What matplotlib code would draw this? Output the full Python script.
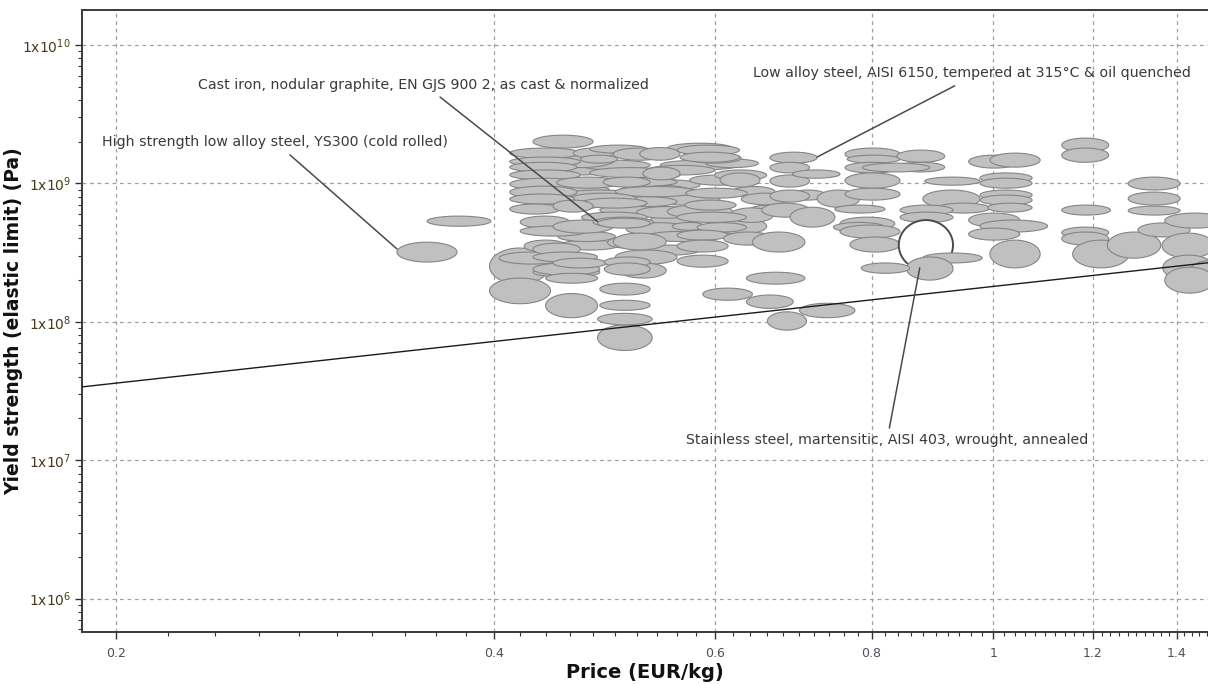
import numpy as np
import matplotlib
matplotlib.use("Agg")
import matplotlib.pyplot as plt
from matplotlib.ticker import FixedLocator, FuncFormatter, LogLocator, MultipleLocator, NullFormatter

# Material property envelopes: price range (EUR/kg) and yield strength range (MPa)
price_lo = [0.43, 0.435, 0.435, 0.452, 0.469, 0.504, 0.486, 0.452, 0.533, 0.523,
            0.543, 0.573, 0.533, 0.504, 0.523,
            0.477, 0.49, 0.50, 0.53, 0.52, 0.51, 0.53, 0.45, 0.59, 0.60,
            0.62, 0.63, 0.64, 0.55, 0.47, 0.50,
            0.44, 0.55, 0.60, 0.50, 0.46, 0.57,
            0.397, 0.397, 0.44, 0.484,
            0.43, 0.412, 0.412, 0.412, 0.412, 0.412, 0.412, 0.412, 0.412, 0.42,
            0.42, 0.423, 0.404, 0.43, 0.43, 0.43, 0.43, 0.44,
            0.463, 0.477, 0.498, 0.469, 0.449, 0.489, 0.469, 0.446, 0.446, 0.48,
            0.493, 0.498, 0.446, 0.504, 0.49, 0.49, 0.486, 0.486, 0.484, 0.484,
            0.523, 0.56, 0.563, 0.526, 0.606, 0.569, 0.568, 0.617, 0.56, 0.555,
            0.581, 0.56, 0.61, 0.643, 0.56, 0.56, 0.636, 0.587, 0.636, 0.701, 0.661,
            0.664, 0.664, 0.664, 0.692, 0.689, 0.664, 0.724, 0.654, 0.689,
            0.762, 0.765, 0.838, 0.838, 0.762, 0.787, 0.762, 0.762, 0.748, 0.755,
            0.746, 0.755, 0.769,
            0.882, 0.879, 0.902, 0.843, 0.843]
price_hi = [0.486, 0.495, 0.504, 0.523, 0.533, 0.563, 0.553, 0.504, 0.606, 0.584,
            0.628, 0.64, 0.584, 0.573, 0.584,
            0.553, 0.56, 0.58, 0.60, 0.58, 0.575, 0.60, 0.50, 0.65, 0.66,
            0.67, 0.69, 0.70, 0.62, 0.53, 0.56,
            0.50, 0.62, 0.66, 0.56, 0.52, 0.63,
            0.443, 0.444, 0.484, 0.535,
            0.48, 0.469, 0.469, 0.466, 0.469, 0.469, 0.466, 0.464, 0.452, 0.46,
            0.475, 0.458, 0.455, 0.469, 0.484, 0.486, 0.486, 0.484,
            0.498, 0.53, 0.549, 0.502, 0.504, 0.533, 0.53, 0.48, 0.498, 0.536,
            0.526, 0.549, 0.492, 0.549, 0.533, 0.533, 0.533, 0.533, 0.535, 0.533,
            0.563, 0.628, 0.628, 0.563, 0.652, 0.637, 0.624, 0.668, 0.636, 0.59,
            0.636, 0.615, 0.668, 0.708, 0.615, 0.615, 0.708, 0.643, 0.693, 0.776, 0.71,
            0.724, 0.714, 0.714, 0.755, 0.736, 0.714, 0.783, 0.714, 0.748,
            0.843, 0.843, 0.915, 0.915, 0.843, 0.89, 0.843, 0.843, 0.82, 0.835,
            0.82, 0.843, 0.843,
            0.976, 0.976, 0.994, 0.929, 0.929]
ys_lo = [641, 823, 1150, 757, 1250, 1060, 590, 330, 697, 895,
         1250, 970, 500, 823, 303,
         1100, 950, 800, 1150, 560, 420, 380, 380, 1300, 1050,
         800, 700, 600, 1650, 520, 680,
         1300, 560, 430, 260, 700, 1400,
         187, 135, 107, 62,
         1800, 1520, 1330, 1210, 1060, 895, 782, 709, 600, 475,
         416, 319, 261, 303, 270, 210, 217, 190,
         1520, 1655, 1470, 1400, 923, 940, 663, 620, 437, 483,
         341, 330, 245, 207, 248, 217, 156, 121, 95, 475,
         1470, 1600, 1420, 1060, 940, 782, 641, 522, 522, 459,
         445, 389, 358, 319, 319, 248, 187, 143, 125, 107, 87,
         1400, 1190, 940, 1090, 757, 732, 672, 570, 483,
         1470, 1400, 1420, 1210, 1190, 1210, 923, 757, 610, 459,
         445, 402, 319,
         970, 665, 610, 590, 522]
ys_hi = [757, 970, 1355, 895, 1470, 1250, 697, 389, 823, 1060,
         1470, 1150, 590, 970, 358,
         1300, 1100, 950, 1350, 680, 520, 450, 450, 1500, 1250,
         950, 850, 700, 1950, 620, 800,
         1700, 700, 560, 330, 850, 1650,
         341, 207, 160, 95,
         2230, 1800, 1550, 1420, 1250, 1090, 955, 838, 709, 580,
         492, 389, 319, 370, 319, 248, 266, 224,
         1800, 1890, 1800, 1600, 1110, 1110, 782, 757, 543, 570,
         410, 437, 288, 266, 294, 266, 190, 143, 115, 560,
         1815, 1890, 1680, 1310, 1190, 923, 757, 665, 620, 522,
         520, 459, 445, 445, 389, 303, 228, 175, 156, 136, 118,
         1680, 1420, 1150, 1250, 895, 895, 895, 720, 672,
         1800, 1600, 1740, 1420, 1420, 1400, 1190, 923, 697, 570,
         522, 500, 410,
         1110, 895, 720, 697, 620]

# Highlighted record (drawn hollow)
sel_price = (0.841, 0.929)
sel_ys = (236, 543)

# Records drawn after the highlighted one
front_price_lo = [0.879, 0.853, 0.785, 0.956, 0.994, 0.976, 0.976, 0.976, 0.976, 0.99,
                  0.956, 0.976, 0.956, 0.994,
                  1.134, 1.134, 1.134, 1.134, 1.134, 1.157, 1.233, 1.281, 1.281, 1.281,
                  1.304, 1.37, 1.363, 1.365, 1.435, 1.37,
                  0.335, 0.354]
front_price_hi = [0.98, 0.929, 0.858, 1.05, 1.09, 1.074, 1.074, 1.074, 1.074, 1.074,
                  1.05, 1.105, 1.05, 1.09,
                  1.236, 1.236, 1.24, 1.236, 1.236, 1.283, 1.36, 1.409, 1.409, 1.409,
                  1.435, 1.53, 1.5, 1.5, 1.573, 1.5,
                  0.374, 0.398]
front_ys_lo = [266, 200, 224, 1290, 1310, 1005, 923, 757, 697, 620,
               483, 445, 389, 245,
               1680, 1420, 590, 402, 358, 245, 288, 895, 697, 590,
               410, 475, 288, 200, 200, 161,
               270, 490]
front_ys_hi = [314, 294, 266, 1600, 1655, 1190, 1090, 895, 823, 720,
               610, 543, 475, 389,
               2125, 1800, 697, 483, 445, 389, 445, 1110, 865, 685,
               518, 610, 437, 303, 279, 248,
               376, 580]

# Guideline of constant strength/price ratio (Pa per EUR/kg)
guide_ratio = 1.8e8
guide_price = [0.15, 2.0]

# Labelled records: text, tip (price, MPa)
labels = ["Cast iron, nodular graphite, EN GJS 900 2, as cast & normalized",
          "High strength low alloy steel, YS300 (cold rolled)",
          "Low alloy steel, AISI 6150, tempered at 315\u00b0C & oil quenched",
          "Stainless steel, martensitic, AISI 403, wrought, annealed"]
label_tip_price = [0.484, 0.335, 0.724, 0.874]
label_tip_ys = [530, 336, 1550, 245]

FILL = "#c0c0c0"
EDGE = "#858585"
TEXT = "#3a3a3a"


def envelope(ax, plo, phi, slo, shi, face=FILL, edge=EDGE, lw=0.8, z=2):
    """Ellipse spanning the property ranges, elliptical in log-log space."""
    t = np.linspace(0, 2 * np.pi, 90)
    lx0, lx1 = np.log10(plo), np.log10(phi)
    ly0, ly1 = np.log10(slo * 1e6), np.log10(shi * 1e6)
    cx, cy = (lx0 + lx1) / 2, (ly0 + ly1) / 2
    ax_, ay_ = (lx1 - lx0) / 2, (ly1 - ly0) / 2
    ax.fill(10 ** (cx + ax_ * np.cos(t)), 10 ** (cy + ay_ * np.sin(t)),
            facecolor=face, edgecolor=edge, linewidth=lw, zorder=z)


fig = plt.figure(figsize=(12.08, 6.84), dpi=100)
ax = fig.add_axes([0.0679, 0.076, 0.9321, 0.9094])
ax.set_xscale("log")
ax.set_yscale("log")
ax.set_xlim(0.188, 1.483)
ax.set_ylim(5.73e5, 1.79e10)

for a, b, c, d in zip(price_lo, price_hi, ys_lo, ys_hi):
    envelope(ax, a, b, c, d)
envelope(ax, *sel_price, *sel_ys, face="white", edge="#4a4a4a", lw=1.4)
for a, b, c, d in zip(front_price_lo, front_price_hi, front_ys_lo, front_ys_hi):
    envelope(ax, a, b, c, d)

gp = np.array(guide_price)
ax.plot(gp, guide_ratio * gp, color="#1a1a1a", linewidth=1.0, zorder=4)

# axes styling
ax.xaxis.set_major_locator(FixedLocator([0.2, 0.4, 0.6, 0.8, 1.0, 1.2, 1.4]))
ax.xaxis.set_major_formatter(FuncFormatter(lambda v, p: "%g" % v))
ax.xaxis.set_minor_locator(MultipleLocator(0.02))
ax.xaxis.set_minor_formatter(NullFormatter())
ax.yaxis.set_major_locator(LogLocator(base=10, numticks=20))
ax.yaxis.set_minor_locator(LogLocator(base=10, subs=np.arange(2, 10), numticks=20))
ax.yaxis.set_major_formatter(FuncFormatter(
    lambda v, p: r"$1\mathrm{x}10^{%d}$" % round(np.log10(v))))
ax.yaxis.set_minor_formatter(NullFormatter())

ax.tick_params(axis="both", which="major", length=5, width=1, color="#333333",
               labelcolor="#4a4f5a", labelsize=9)
ax.tick_params(axis="both", which="minor", length=3, width=0.8, color="#333333")
ax.tick_params(axis="y", which="major", labelcolor="#4a3a1a", labelsize=10, pad=3)
ax.tick_params(axis="x", which="major", pad=6)

ax.grid(True, which="major", linestyle=(0, (3, 3)), color="#a0a0a0", linewidth=0.9)
ax.set_axisbelow(True)
for side in ["left", "bottom", "top"]:
    ax.spines[side].set_color("#3a3a3a")
    ax.spines[side].set_linewidth(1.4)
ax.spines["right"].set_visible(False)

ax.set_xlabel("Price (EUR/kg)", fontsize=14, fontweight="bold", color="#111111", labelpad=2)
ax.set_ylabel("Yield strength (elastic limit) (Pa)", fontsize=13.5, fontweight="bold",
              color="#111111")
ax.yaxis.set_label_coords(-0.0524, 0.5)

# record labels with leader lines
text_pos = [(0.103, 0.879), (0.0175, 0.787), (0.596, 0.899), (0.536, 0.309)]
lead_start = [(0.318, 0.860), (0.1847, 0.767), (0.775, 0.878), (0.717, 0.328)]
for lab, tp, ls, px, sy in zip(labels, text_pos, lead_start, label_tip_price, label_tip_ys):
    ax.text(tp[0], tp[1], lab, transform=ax.transAxes, ha="left", va="center",
            fontsize=10.2, color=TEXT, zorder=6)
    ax.annotate("", xy=(px, sy * 1e6), xycoords="data", xytext=ls, textcoords="axes fraction",
                arrowprops=dict(arrowstyle="-", color="#4a4a4a", linewidth=1.1,
                                shrinkA=0, shrinkB=0), zorder=5)

fig.savefig("out.png", dpi=100, facecolor="white")
